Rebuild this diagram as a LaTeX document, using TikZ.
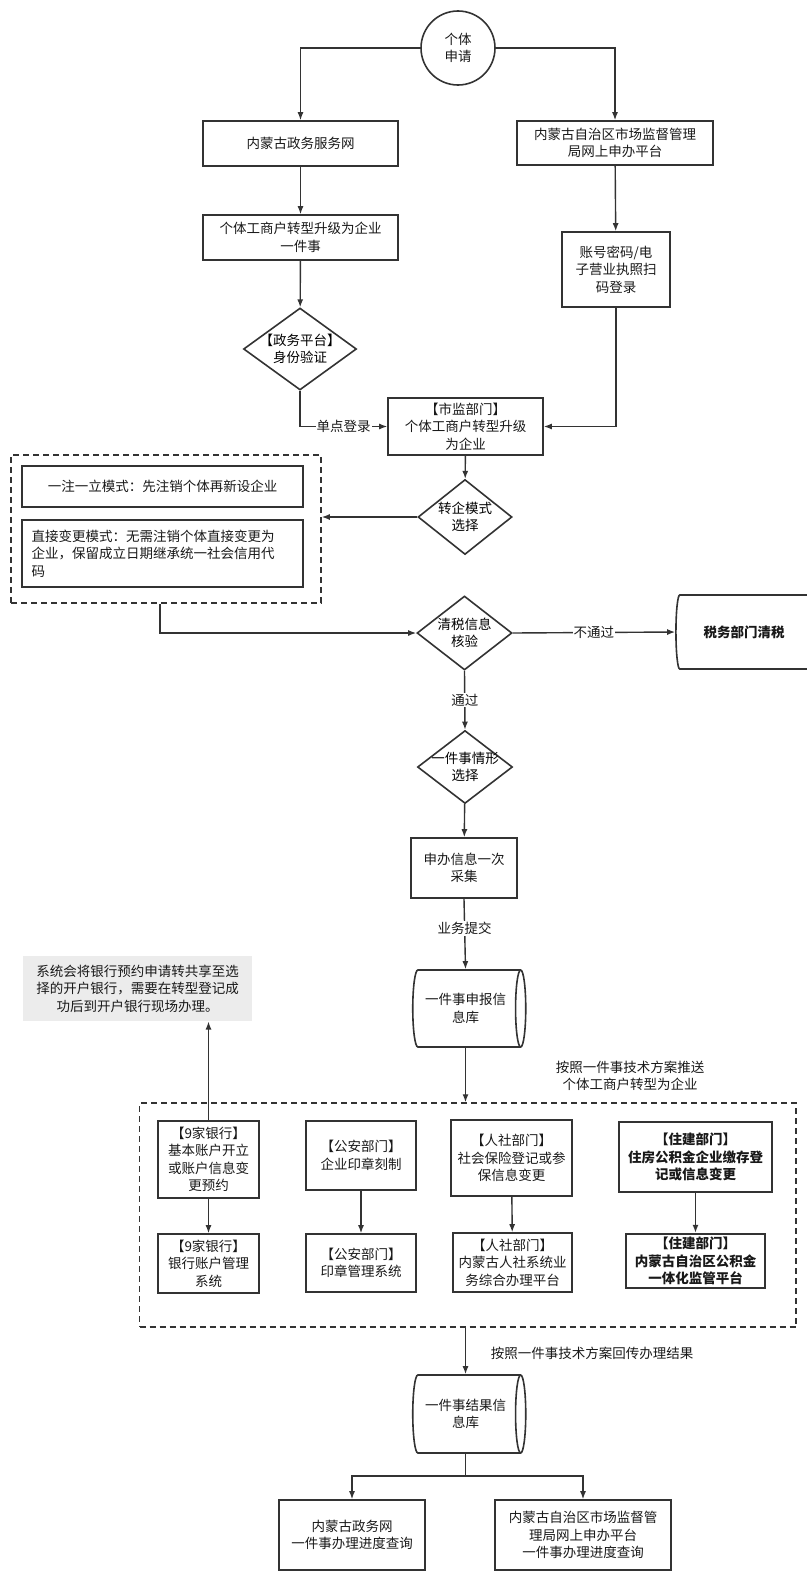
\documentclass[tikz,border=0pt]{standalone}
\usepackage{fontspec}
\setmainfont{Noto Sans CJK SC}
\usepackage{tikz}
\usetikzlibrary{arrows.meta,%
                shapes.geometric}
\definecolor{linegray}{HTML}{333333}

\begin{document}
\begin{tikzpicture}[x=1pt,y=-1pt,font=\fontsize{13.5}{17.5}\selectfont,>={Latex[length=8pt,width=6pt]}]
		\tikzstyle{BoxStyle}=[draw=linegray,line width=1.6pt,fill=white,align=center,inner sep=2pt,text=black!90]
		\tikzstyle{DiamondStyle}=[diamond,draw=linegray,line width=1.6pt,fill=white,inner sep=0pt,text=black!90]
		\tikzstyle{BaseStyle}=[cylinder,draw=linegray,line width=1.6pt,fill=white,align=center,inner sep=2pt,shape aspect=0.3,text=black!90]
		\tikzstyle{GroupStyle}=[draw=linegray,line width=1.5pt,dash pattern=on 6pt off 4pt]
		\tikzstyle{EdgeStyle}=[->,draw=linegray,line width=1.4pt]
		\tikzstyle{LabelStyle}=[fill=white,inner sep=1pt,text=black!90]
		\useasboundingbox (0,0) rectangle (806,1574);

		% application
		\node[BoxStyle,circle,minimum size=74pt,inner sep=0pt] (S) at (458,48) {个体\\申请};
		\node[BoxStyle,minimum width=195pt,minimum height=45pt] (ZW) at (300.5,143.5) {内蒙古政务服务网};
		\node[BoxStyle,minimum width=196pt,minimum height=44pt] (SC) at (615,143) {内蒙古自治区市场监督管理\\局网上申办平台};
		\node[BoxStyle,minimum width=195pt,minimum height=45pt] (YJ) at (300.5,237.5) {个体工商户转型升级为企业\\一件事};
		\node[BoxStyle,minimum width=108pt,minimum height=75pt] (DL) at (616,269.5) {账号密码/电\\子营业执照扫\\码登录};
		\node[DiamondStyle,minimum width=113pt,minimum height=82pt,
		      label={[align=center]center:【政务平台】\\身份验证}] (SF) at (300,349) {};
		\node[BoxStyle,minimum width=155pt,minimum height=57pt] (SJ) at (465.5,426.5) {【市监部门】\\个体工商户转型升级\\为企业};
		\draw[EdgeStyle] (S.west) -| (ZW.north);
		\draw[EdgeStyle] (S.east) -| (SC.north);
		\draw[EdgeStyle] (ZW) -- (YJ);
		\draw[EdgeStyle] (YJ) -- (SF);
		\draw[EdgeStyle] (SC) -- (DL);
		\draw[EdgeStyle] (SF.south) |- node[LabelStyle,pos=0.75]{单点登录} (SJ.west);
		\draw[EdgeStyle] (DL.south) |- (SJ.east);

		% mode choice
		\node[DiamondStyle,minimum width=94pt,minimum height=75pt,
		      label={[align=center]center:转企模式\\选择}] (MS) at (465,517) {};
		\node[GroupStyle,minimum width=310pt,minimum height=148pt] (MG) at (166,529) {};
		\node[BoxStyle,minimum width=281pt,minimum height=41pt] (MA) at (162.5,486.5) {一注一立模式：先注销个体再新设企业};
		\node[BoxStyle,text width=262pt,inner xsep=9.5pt,minimum height=67pt,align=left] (MB) at (162.5,553.5)
		     {直接变更模式：无需注销个体直接变更为\\企业，保留成立日期继承统一社会信用代\\码};
		\draw[EdgeStyle] (SJ) -- (MS);
		\draw[EdgeStyle] (MS.west) -- (MS.west -| MG.east);

		% tax check
		\node[DiamondStyle,minimum width=95pt,minimum height=74pt,
		      label={[align=center]center:清税信息\\核验}] (QS) at (464.5,633) {};
		\node[BaseStyle,minimum height=142pt,minimum width=74pt,shape aspect=0.45,font=\fontsize{13.5}{17.5}\selectfont\bfseries] (SW) at (744,632) {税务部门清税};
		\node[DiamondStyle,minimum width=95pt,minimum height=73pt,
		      label={[align=center]center:一件事情形\\选择}] (QX) at (465,767) {};
		\node[BoxStyle,minimum width=106pt,minimum height=60pt] (CJ) at (464,868) {申办信息一次\\采集};
		\node[BaseStyle,minimum height=113pt,minimum width=77pt] (K1) at (465.5,1008.5) {一件事申报信\\息库};
		\draw[EdgeStyle] ([xshift=-6pt]MG.south) |- (QS.west);
		\draw[EdgeStyle] (QS.east) -- node[LabelStyle]{不通过} (SW.west);
		\draw[EdgeStyle] (QS.south) -- node[LabelStyle]{通过} (QX.north);
		\draw[EdgeStyle] (QX) -- (CJ);
		\draw[EdgeStyle] (CJ.south) -- node[LabelStyle,pos=0.42]{业务提交} (K1.north);

		% departments
		\node[fill=gray!15,text=black!90,text width=211pt,inner sep=9pt,align=center] (NT) at (137.5,988.5)
		     {系统会将银行预约申请转共享至选\\择的开户银行，需要在转型登记成\\功后到开户银行现场办理。};
		\node[text=black!90,align=center] (TS) at (630,1076) {按照一件事技术方案推送\\个体工商户转型为企业};
		\node[GroupStyle,minimum width=656.5pt,minimum height=224pt] (BM) at (467.75,1215) {};
		\node[BoxStyle,minimum width=101pt,minimum height=77pt] (B1) at (208.5,1159.5) {【9家银行】\\基本账户开立\\或账户信息变\\更预约};
		\node[BoxStyle,minimum width=101pt,minimum height=59pt] (B2) at (208.5,1263.5) {【9家银行】\\银行账户管理\\系统};
		\node[BoxStyle,minimum width=110pt,minimum height=69pt] (P1) at (361,1155.5) {【公安部门】\\企业印章刻制};
		\node[BoxStyle,minimum width=110pt,minimum height=58pt] (P2) at (361,1263) {【公安部门】\\印章管理系统};
		\node[BoxStyle,minimum width=121pt,minimum height=76pt] (H1) at (511.5,1158) {【人社部门】\\社会保险登记或参\\保信息变更};
		\node[BoxStyle,minimum width=119pt,minimum height=59pt] (H2) at (512.5,1262.5) {【人社部门】\\内蒙古人社系统业\\务综合办理平台};
		\node[BoxStyle,line width=2.4pt,minimum width=153pt,minimum height=70pt,font=\fontsize{13.5}{17.5}\selectfont\bfseries] (Z1) at (695.5,1157)
		     {【住建部门】\\住房公积金企业缴存登\\记或信息变更};
		\node[BoxStyle,line width=2.4pt,minimum width=139pt,minimum height=54pt,font=\fontsize{13.5}{17.5}\selectfont\bfseries] (Z2) at (695.5,1261)
		     {【住建部门】\\内蒙古自治区公积金\\一体化监管平台};
		\draw[EdgeStyle] (K1.south) -- (K1.south |- BM.north);
		\draw[EdgeStyle] (B1.north) -- (B1.north |- NT.south);
		\draw[EdgeStyle] (B1) -- (B2);
		\draw[EdgeStyle] (P1) -- (P2);
		\draw[EdgeStyle] (H1) -- (H2);
		\draw[EdgeStyle] (Z1) -- (Z2);

		% results
		\node[text=black!90] (TR) at (592,1353) {按照一件事技术方案回传办理结果};
		\node[BaseStyle,minimum height=113pt,minimum width=78pt] (K2) at (465.5,1414) {一件事结果信\\息库};
		\node[BoxStyle,minimum width=146pt,minimum height=70pt] (R1) at (352,1535) {内蒙古政务网\\一件事办理进度查询};
		\node[BoxStyle,minimum width=176pt,minimum height=70pt] (R2) at (583,1535) {内蒙古自治区市场监督管\\理局网上申办平台\\一件事办理进度查询};
		\coordinate (SP) at ([yshift=-22pt]K2.south);
		\draw[EdgeStyle] (BM.south -| K2.north) -- (K2.north);
		\draw[draw=linegray,line width=1.4pt] (K2.south) -- (SP);
		\draw[EdgeStyle] (SP) -| (R1.north);
		\draw[EdgeStyle] (SP) -| (R2.north);
\end{tikzpicture}
\end{document}
